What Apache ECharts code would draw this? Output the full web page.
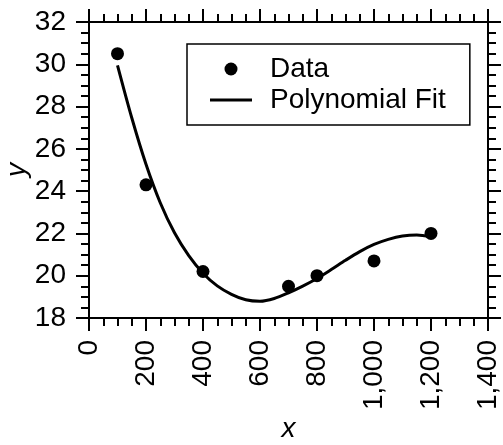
<!DOCTYPE html>
<html>
<head>
<meta charset="utf-8">
<script src="https://cdn.jsdelivr.net/npm/echarts@6/dist/echarts.min.js"></script>
<style>
html,body{margin:0;padding:0;background:#fff;}
#chart{width:503px;height:445px;}
</style>
</head>
<body>
<div id="chart"></div>
<script>
const seriesNames = ['Data', 'Polynomial Fit'];
const axisNames = ['x', 'y'];
const dataX = [100, 200, 400, 700, 800, 1000, 1200];
const dataY = [30.5, 24.3, 20.2, 19.5, 20.0, 20.7, 22.0];
const fitX = [100, 150, 200, 250, 300, 350, 400, 450, 500, 550, 600, 650, 700, 750, 800, 850, 900, 950, 1000, 1050, 1100, 1150, 1200];
const fitY = [29.95, 27.47, 25.27, 23.45, 22.03, 20.95, 20.12, 19.52, 19.12, 18.86, 18.79, 18.92, 19.19, 19.51, 19.87, 20.29, 20.73, 21.14, 21.48, 21.72, 21.88, 21.93, 21.84];
const xRange = [0, 1400, 200];
const yRange = [18, 32, 2];

const FONT = '"Liberation Sans", Arial, sans-serif';
const FS = 28;

function axisCommon(range) {
  return {
    min: range[0], max: range[1], interval: range[2],
    axisLine: { show: true, onZero: false, lineStyle: { color: '#000', width: 2 } },
    axisTick: { show: true, inside: false, length: 13, lineStyle: { color: '#000', width: 2 } },
    minorTick: { show: true, splitNumber: 4, length: 8, lineStyle: { color: '#000', width: 2 } },
    splitLine: { show: false },
    minorSplitLine: { show: false }
  };
}

const chart = echarts.init(document.getElementById('chart'), null, { renderer: 'canvas' });
chart.setOption({
  animation: false,
  backgroundColor: '#fff',
  grid: { left: 89, right: 15, top: 22, bottom: 127, containLabel: false, outerBoundsMode: 'none' },
  legend: {
    orient: 'vertical',
    left: 187, top: 44,
    padding: [11, 24, 11, 23],
    itemWidth: 42, itemHeight: 13, itemGap: 3,
    borderColor: '#000', borderWidth: 1.5,
    selectedMode: false,
    textStyle: { fontSize: FS, color: '#000', fontFamily: FONT, padding: [0, 0, 0, 13] },
    data: [
      { name: seriesNames[0], icon: 'circle' },
      { name: seriesNames[1], icon: 'path://M0,0 H42 V3 H0 Z' }
    ]
  },
  xAxis: [
    Object.assign(axisCommon(xRange), {
      type: 'value', position: 'bottom',
      name: axisNames[0], nameLocation: 'middle', nameGap: 97, nameMoveOverlap: false,
      nameTextStyle: { fontSize: FS, fontStyle: 'italic', color: '#000', fontFamily: FONT },
      axisLabel: { show: true, rotate: 90, margin: 22, fontSize: FS, color: '#000', fontFamily: FONT,
        formatter: v => v.toLocaleString('en-US') }
    }),
    Object.assign(axisCommon(xRange), { type: 'value', position: 'top', axisLabel: { show: false } })
  ],
  yAxis: [
    Object.assign(axisCommon(yRange), {
      type: 'value', position: 'left',
      name: axisNames[1], nameLocation: 'middle', nameGap: 58, nameMoveOverlap: false,
      nameTextStyle: { fontSize: FS, fontStyle: 'italic', color: '#000', fontFamily: FONT },
      axisLabel: { show: true, margin: 23, fontSize: FS, color: '#000', fontFamily: FONT }
    }),
    Object.assign(axisCommon(yRange), { type: 'value', position: 'right', axisLabel: { show: false } })
  ],
  series: [
    {
      name: seriesNames[0], type: 'scatter', xAxisIndex: 0, yAxisIndex: 0,
      symbol: 'circle', symbolSize: 13,
      itemStyle: { color: '#000', opacity: 1 },
      data: dataX.map((x, i) => [x, dataY[i]]),
      z: 3
    },
    {
      name: seriesNames[1], type: 'line', xAxisIndex: 0, yAxisIndex: 0,
      symbol: 'none', showSymbol: false, smooth: 0.3,
      lineStyle: { color: '#000', width: 3 },
      itemStyle: { color: '#000' },
      data: fitX.map((x, i) => [x, fitY[i]]),
      z: 2
    }
  ]
});
</script>
</body>
</html>
